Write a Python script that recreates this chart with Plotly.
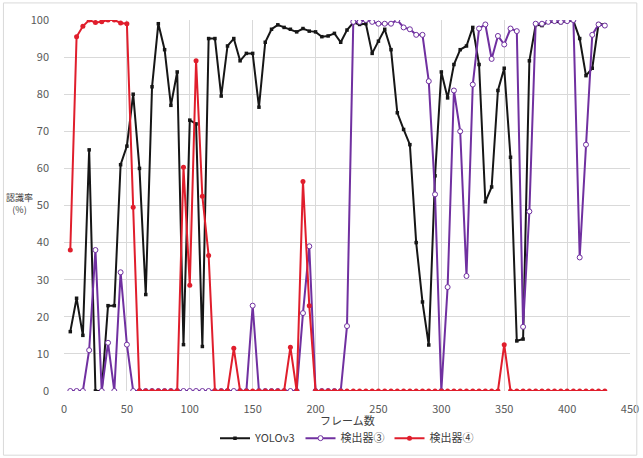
import plotly.graph_objects as go

frames = [5, 10, 15, 20, 25, 30, 35, 40, 45, 50,
          55, 60, 65, 70, 75, 80, 85, 90, 95, 100,
          105, 110, 115, 120, 125, 130, 135, 140, 145, 150,
          155, 160, 165, 170, 175, 180, 185, 190, 195, 200,
          205, 210, 215, 220, 225, 230, 235, 240, 245, 250,
          255, 260, 265, 270, 275, 280, 285, 290, 295, 300,
          305, 310, 315, 320, 325, 330, 335, 340, 345, 350,
          355, 360, 365, 370, 375, 380, 385, 390, 395, 400,
          405, 410, 415, 420, 425, 430]

yolov3 = [16, 25, 15, 65, 0, 0, 23, 23, 61, 66,
          80, 60, 26, 82, 99, 92, 77, 86, 12.5, 73,
          72, 12, 95, 95, 79.5, 93, 95, 89, 91, 91,
          76.5, 94, 97.5, 98.7, 98, 97.5, 96.8, 97.7, 97, 96.8,
          95.5, 95.7, 96.4, 94, 97.3, 99.3, 98.8, 99, 91, 94.3,
          97.5, 92, 75, 70.5, 66.4, 40, 24, 12.4, 58, 86,
          79, 88, 92, 93, 98, 88, 51, 55, 81, 87,
          63, 13.5, 14, 89, 98.7, 98.5, 99.5, 99.6, 99.3, 99.8,
          99.8, 95, 85, 87, 99, 98.7]

detector3 = [0, 0, 0, 11, 38, 0, 13, 0, 32, 12.5,
             0, 0, 0, 0, 0, 0, 0, 0, 0, 0,
             0, 0, 0, 0, 0, 0, 0, 0, 0, 23,
             0, 0, 0, 0, 0, 0, 0, 21, 39, 0,
             0, 0, 0, 0, 17.5, 99.5, 99.5, 100, 99.5, 99,
             99, 99, 100, 98, 97.5, 96, 96, 83.5, 53, 0,
             28, 81, 70, 31, 82.6, 97.7, 98.8, 89.5, 95.7, 93.4,
             97.7, 97, 17.3, 48.4, 99, 99, 99.5, 99.7, 99.5, 99.7,
             100, 36, 66.4, 96, 98.8, 98.5]

detector4 = [38, 95.5, 98.3, 100, 99.3, 99.5, 100, 100, 99.2, 99,
             49.5, 0, 0, 0, 0, 0, 0, 0, 60.3, 28.5,
             89, 52.5, 36.5, 0, 0, 0, 11.5, 0, 0, 0,
             0, 0, 0, 0, 0, 11.8, 0, 56.5, 23, 0,
             0, 0, 0, 0, 0, 0, 0, 0, 0, 0,
             0, 0, 0, 0, 0, 0, 0, 0, 0, 0,
             0, 0, 0, 0, 0, 0, 0, 0, 0, 12.5,
             0, 0, 0, 0, 0, 0, 0, 0, 0, 0,
             0, 0, 0, 0, 0, 0]

names = ["YOLOv3", "検出器③", "検出器④"]

JP = "Noto Sans CJK JP, Noto Sans, sans-serif"

fig = go.Figure()
fig.add_trace(go.Scatter(
    x=frames, y=yolov3, name=names[0], mode="lines+markers",
    line=dict(color="#161616", width=2),
    marker=dict(symbol="square", size=3.5, color="#161616")))
fig.add_trace(go.Scatter(
    x=frames, y=detector3, name=names[1], mode="lines+markers",
    line=dict(color="#7030A0", width=2),
    marker=dict(symbol="circle", size=5, color="white",
                line=dict(color="#7030A0", width=1))))
fig.add_trace(go.Scatter(
    x=frames, y=detector4, name=names[2], mode="lines+markers",
    line=dict(color="#E01E2C", width=2),
    marker=dict(symbol="circle", size=5, color="#E01E2C")))

fig.update_layout(
    width=643, height=458,
    margin=dict(l=64, r=13, t=20, b=67, autoexpand=False),
    paper_bgcolor="white", plot_bgcolor="white",
    font=dict(family=JP, size=11, color="#595959"),
    showlegend=True,
    legend=dict(orientation="h", x=0.5, xanchor="center", y=-0.088, yanchor="top",
                font=dict(family=JP, size=11, color="#404040"),
                itemwidth=30, tracegroupgap=0),
    xaxis=dict(range=[0, 450], dtick=50, tick0=0, showgrid=True, gridcolor="#D9D9D9",
               gridwidth=1, zeroline=False, showline=False, ticks="",
               ticklabelstandoff=10, automargin=False,
               tickfont=dict(size=11, color="#595959")),
    yaxis=dict(range=[0, 100], dtick=10, tick0=0, showgrid=True, gridcolor="#D9D9D9",
               gridwidth=1, zeroline=False, showline=False, ticks="",
               ticklabelstandoff=14, automargin=False,
               tickfont=dict(size=11, color="#595959")),
)

fig.add_annotation(xref="paper", yref="paper", x=0.5, y=-0.078,
                   text="フレーム数", showarrow=False,
                   font=dict(family=JP, size=11, color="#404040"),
                   xanchor="center", yanchor="middle")

fig.add_annotation(xref="paper", yref="paper", x=-0.078, y=0.505,
                   text="認識率<br>(%)", showarrow=False,
                   font=dict(family=JP, size=9, color="#404040"),
                   xanchor="center", yanchor="middle", align="center")

fig.add_shape(type="rect", xref="paper", yref="paper",
              x0=-0.107, x1=1.012, y0=-0.173, y1=1.046,
              line=dict(color="#D9D9D9", width=1), fillcolor="rgba(0,0,0,0)")

fig.write_html("out.html", config={"displayModeBar": False},
               post_script="document.body.style.margin='0';document.body.style.overflow='hidden';")
